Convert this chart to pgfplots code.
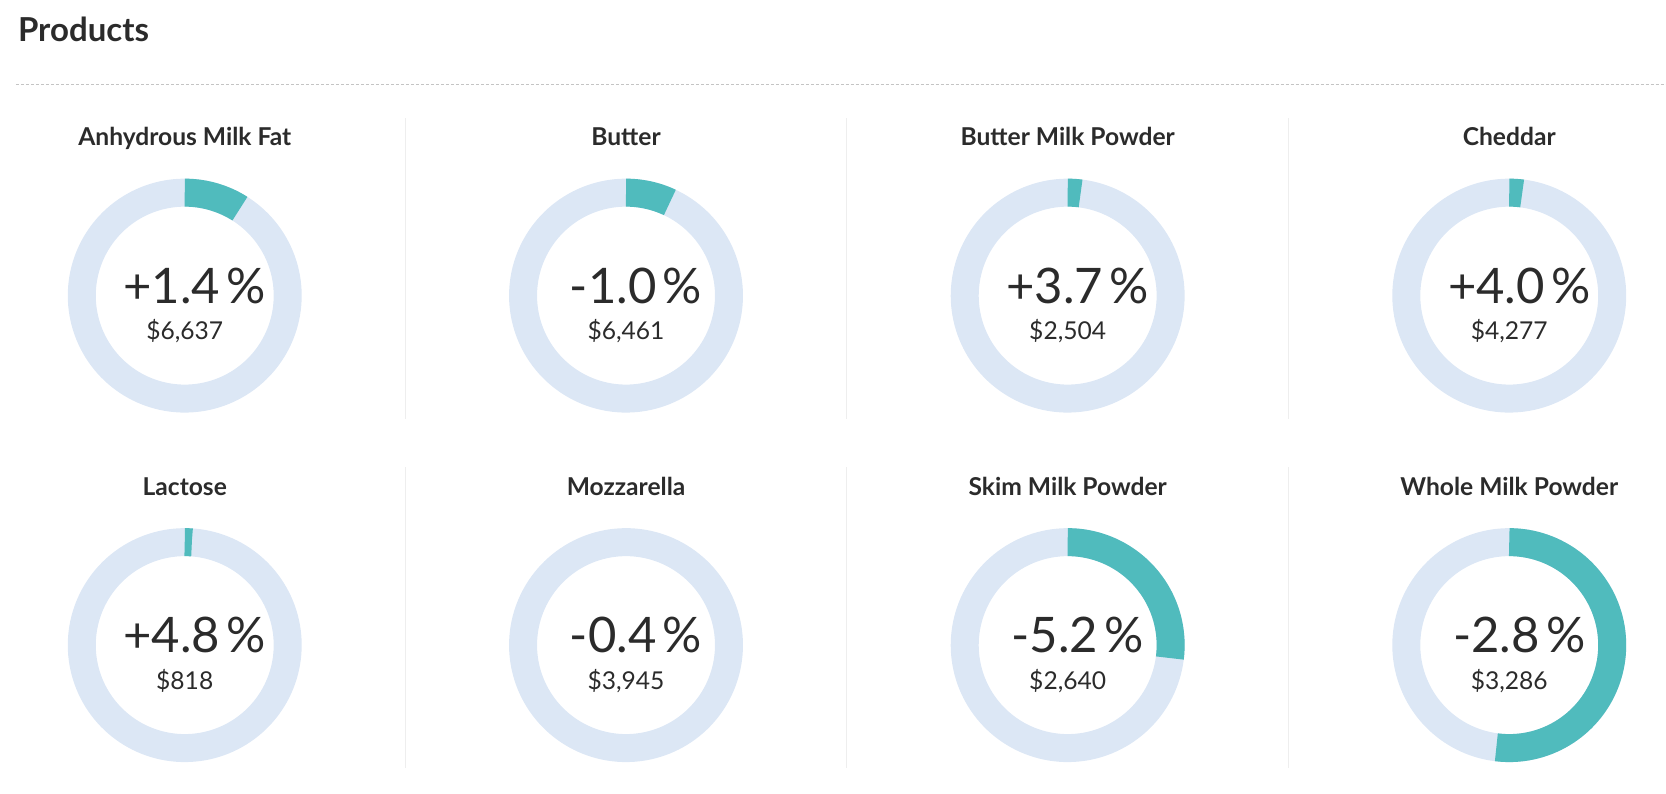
\documentclass[border=0pt]{standalone}
\usepackage{fontspec}
\setmainfont{Lato}
\usepackage{pgfplots}
\pgfplotsset{compat=1.18}
\definecolor{tealc}{HTML}{50BBBD}
\definecolor{ringc}{HTML}{DCE7F5}
\definecolor{txt}{HTML}{2B2B2B}
\definecolor{sepc}{HTML}{EEEEEE}
\definecolor{dashc}{HTML}{C4C4C4}
% cx, cy (pixels), share of ring, name, change, value
\newcommand\ring[2]{%
  \addplot[ringc, line width=14pt, domain=0:362, samples=150]
    ({#1+103*sin(x)},{#2-103*cos(x)});}
\newcommand\seg[3]{%
  \addplot[tealc, line width=14pt, domain=0:360*#3, samples=80]
    ({#1+103*sin(x)},{#2-103*cos(x)});}
\newcommand\labels[5]{%
  \node[anchor=base, font=\bfseries\fontsize{12.3pt}{13pt}\selectfont, text=txt]
    at (axis cs:#1,#2-149.7) {#3};
  \node[anchor=base, font=\fontsize{24.5pt}{26pt}\selectfont, text=txt]
    at (axis cs:#1+10,#2+7.6) {#4\hspace{0.13em}\%};
  \node[anchor=base, font=\fontsize{12.3pt}{13pt}\selectfont, text=txt]
    at (axis cs:#1,#2+44.3) {#5};}
\begin{document}
\begin{tikzpicture}
\begin{axis}[
  width=833pt, height=397pt, scale only axis,
  xmin=0, xmax=1666, ymin=0, ymax=794, y dir=reverse,
  axis line style={draw=none}, ticks=none, clip=false]
% title and rules
\node[anchor=base west, font=\bfseries\fontsize{16.5pt}{18pt}\selectfont, text=txt]
  at (axis cs:11,42) {Products};
\draw[dashc, line width=0.5pt, dash pattern=on 1.6pt off 0.9pt]
  (axis cs:16,85) -- (axis cs:1666,85);
\draw[sepc, line width=0.6pt] (axis cs:405.5,118) -- (axis cs:405.5,419);
\draw[sepc, line width=0.6pt] (axis cs:847,118) -- (axis cs:847,419);
\draw[sepc, line width=0.6pt] (axis cs:1288.7,118) -- (axis cs:1288.7,419);
\draw[sepc, line width=0.6pt] (axis cs:405.5,467) -- (axis cs:405.5,768);
\draw[sepc, line width=0.6pt] (axis cs:847,467) -- (axis cs:847,768);
\draw[sepc, line width=0.6pt] (axis cs:1288.7,467) -- (axis cs:1288.7,768);
% row 1
\ring{184.8}{295.7}\seg{184.8}{295.7}{0.090}
\labels{184.8}{295.7}{Anhydrous Milk Fat}{+1.4}{\$6,637}
\ring{626.2}{295.7}\seg{626.2}{295.7}{0.070}
\labels{626.2}{295.7}{Butter}{-1.0}{\$6,461}
\ring{1068}{295.7}\seg{1068}{295.7}{0.020}
\labels{1068}{295.7}{Butter Milk Powder}{+3.7}{\$2,504}
\ring{1509.7}{295.7}\seg{1509.7}{295.7}{0.020}
\labels{1509.7}{295.7}{Cheddar}{+4.0}{\$4,277}
% row 2
\ring{184.8}{645.3}\seg{184.8}{645.3}{0.011}
\labels{184.8}{645.3}{Lactose}{+4.8}{\$818}
\ring{626.2}{645.3}
\labels{626.2}{645.3}{Mozzarella}{-0.4}{\$3,945}
\ring{1068}{645.3}\seg{1068}{645.3}{0.270}
\labels{1068}{645.3}{Skim Milk Powder}{-5.2}{\$2,640}
\ring{1509.7}{645.3}\seg{1509.7}{645.3}{0.520}
\labels{1509.7}{645.3}{Whole Milk Powder}{-2.8}{\$3,286}
\end{axis}
\end{tikzpicture}
\end{document}
